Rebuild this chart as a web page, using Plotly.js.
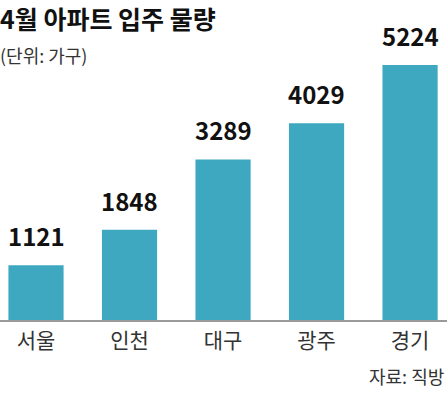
<!DOCTYPE html>
<html><head><meta charset="utf-8">
<script src="https://cdn.plot.ly/plotly-3.0.1.min.js"></script>
<style>html,body{margin:0;padding:0;background:#fff}#c{width:447px;height:397px}</style>
</head><body><div id="c"></div>
<script>
const categories = ['서울', '인천', '대구', '광주', '경기'];
const values = [1121, 1848, 3289, 4029, 5224];
const valueLabels = ['1121', '1848', '3289', '4029', '5224'];

const KR = '"Noto Sans CJK KR", "Noto Sans", sans-serif';

const trace = {
  type: 'bar', x: categories, y: values,
  marker: {color: '#3fa8c1'}, width: 0.59,
  hoverinfo: 'skip'
};

const annotations = categories.map((c, i) => ({
  x: c, y: values[i], xref: 'x', yref: 'y', text: valueLabels[i],
  showarrow: false, yanchor: 'bottom', yshift: 10,
  font: {family: KR, size: 24, color: '#111', weight: 700}
}));
annotations.push({
  xref: 'paper', yref: 'paper', x: 0, y: 1, xanchor: 'left', yanchor: 'middle', yshift: -15, xshift: -2,
  text: '(단위: 가구)', showarrow: false,
  font: {family: KR, size: 18, color: '#333'}
});
annotations.push({
  xref: 'paper', yref: 'paper', x: 1, y: 0, xanchor: 'right', yanchor: 'middle', yshift: -56, xshift: -1,
  text: '자료: 직방', showarrow: false,
  font: {family: KR, size: 18, color: '#333'}
});

const layout = {
  width: 447, height: 397,
  margin: {l: 0, r: 0, t: 40, b: 77},
  paper_bgcolor: '#fff', plot_bgcolor: '#fff',
  showlegend: false,
  title: {text: '<b>4월 아파트 입주 물량</b>', x: 0.0, xanchor: 'left', xref: 'paper',
          y: 0.95, yanchor: 'middle', yref: 'container',
          font: {family: KR, size: 25, color: '#111'}},
  xaxis: {type: 'category', range: [-0.385, 4.395], showgrid: false, zeroline: false,
          showline: true, linecolor: '#9a9a9a', linewidth: 1.5, ticks: '',
          tickfont: {family: KR, size: 21, color: '#333'}, ticklabelstandoff: 1, fixedrange: true},
  yaxis: {range: [0, 5736], visible: false, fixedrange: true},
  annotations: annotations
};

Plotly.newPlot('c', [trace], layout, {staticPlot: true, displayModeBar: false});
</script></body></html>
